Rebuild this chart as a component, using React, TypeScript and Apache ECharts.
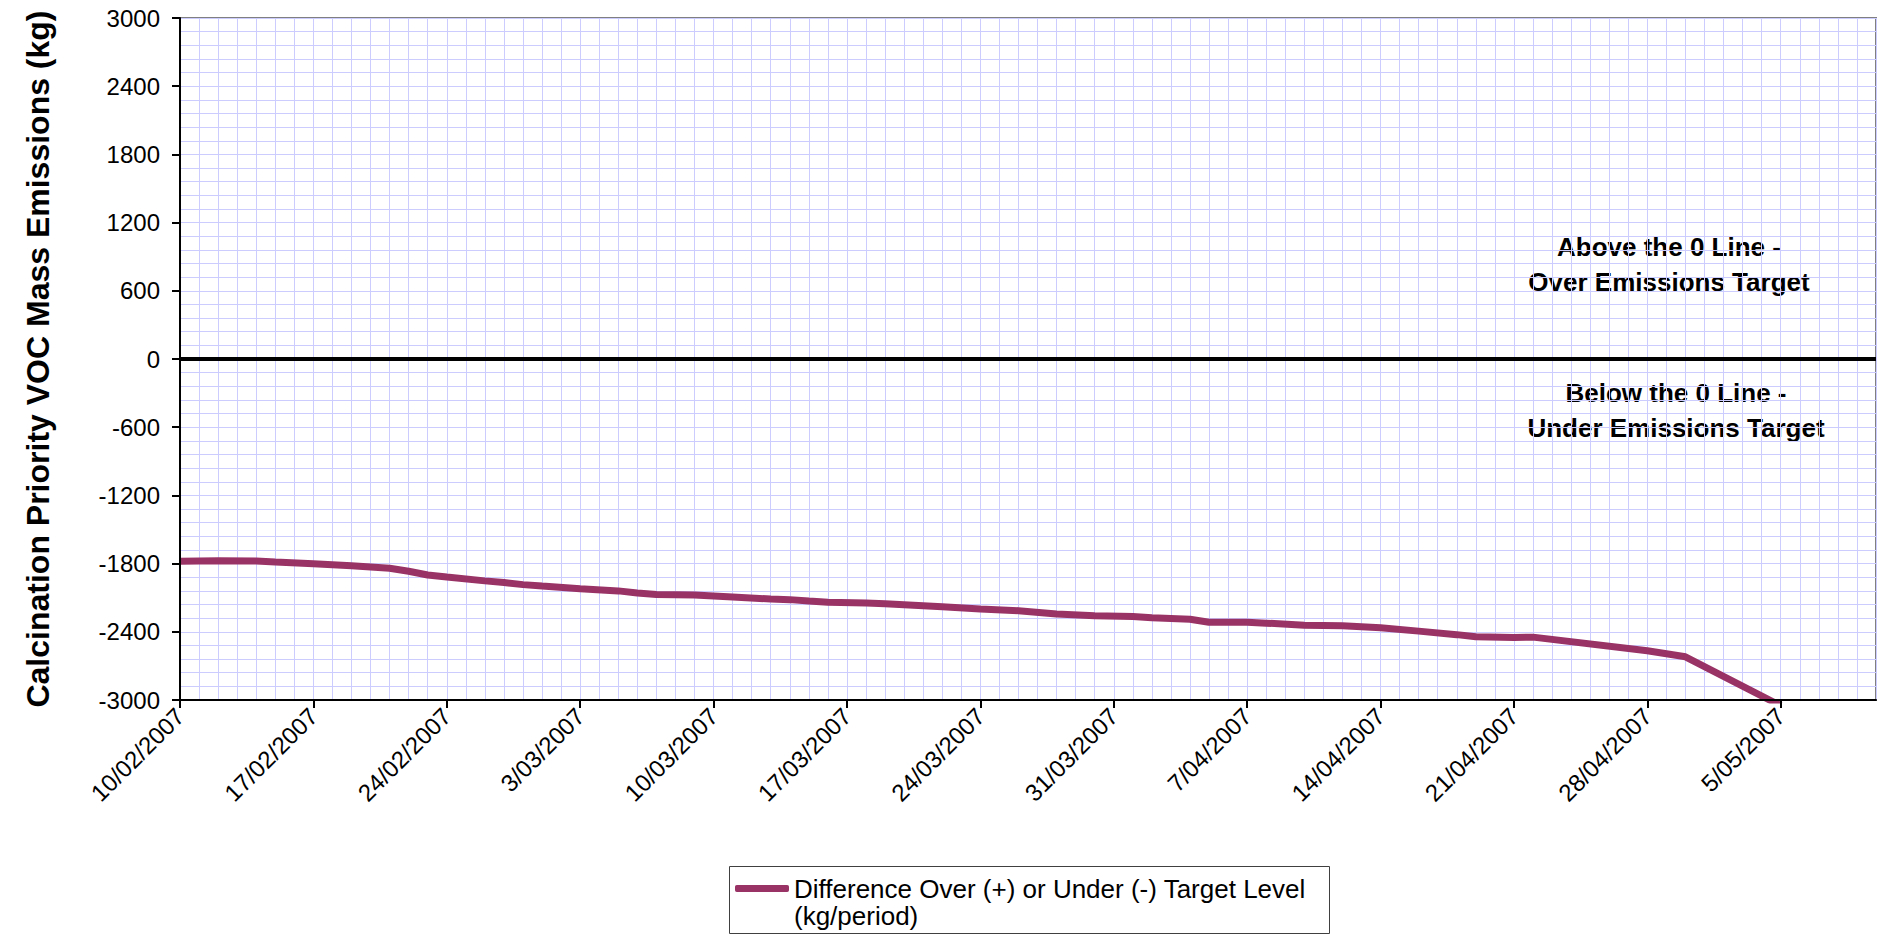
import React, { useEffect, useRef } from "react";
import * as echarts from "echarts";

const dates = [
  "2007-02-10", "2007-02-12", "2007-02-14", "2007-02-15", "2007-02-17", "2007-02-19",
  "2007-02-21", "2007-02-22", "2007-02-23", "2007-02-24", "2007-02-26", "2007-02-27",
  "2007-02-28", "2007-03-01", "2007-03-03", "2007-03-05", "2007-03-06", "2007-03-07",
  "2007-03-09", "2007-03-11", "2007-03-13", "2007-03-14", "2007-03-15", "2007-03-16",
  "2007-03-18", "2007-03-19", "2007-03-22", "2007-03-24", "2007-03-26", "2007-03-28",
  "2007-03-30", "2007-04-01", "2007-04-02", "2007-04-04", "2007-04-05", "2007-04-07",
  "2007-04-08", "2007-04-10", "2007-04-12", "2007-04-14", "2007-04-16", "2007-04-18",
  "2007-04-19", "2007-04-21", "2007-04-22", "2007-04-28", "2007-04-30", "2007-05-05",
];
const differenceValues = [
  -1780, -1775, -1777, -1786, -1801, -1818,
  -1841, -1867, -1900, -1918, -1952, -1967,
  -1985, -1998, -2022, -2040, -2058, -2072,
  -2076, -2093, -2112, -2117, -2130, -2141,
  -2147, -2153, -2179, -2199, -2214, -2243,
  -2258, -2266, -2277, -2289, -2316, -2316,
  -2324, -2342, -2347, -2365, -2394, -2425,
  -2444, -2450, -2447, -2567, -2620, -3050,
];
const xTickDates = [
  "2007-02-10", "2007-02-17", "2007-02-24", "2007-03-03", "2007-03-10", "2007-03-17",
  "2007-03-24", "2007-03-31", "2007-04-07", "2007-04-14", "2007-04-21", "2007-04-28",
  "2007-05-05",
];
const xMinDate = "2007-02-10";
const xMaxDate = "2007-05-10";
const yTickValues = [-3000, -2400, -1800, -1200, -600, 0, 600, 1200, 1800, 2400, 3000];
const seriesName = "Difference Over (+) or Under (-) Target Level (kg/period)";
const legendLines = ["Difference Over (+) or Under (-) Target Level", "(kg/period)"];
const yAxisTitle = "Calcination Priority VOC Mass Emissions (kg)";
const aboveText = ["Above the 0 Line -", "Over Emissions Target"];
const belowText = ["Below the 0 Line -", "Under Emissions Target"];

const DAY = 86400000;
const toUTC = (s: string) => {
  const [y, m, d] = s.split("-").map(Number);
  return Date.UTC(y, m - 1, d);
};
const fmtDate = (v: number) => {
  const d = new Date(v);
  return `${d.getUTCDate()}/${String(d.getUTCMonth() + 1).padStart(2, "0")}/${d.getUTCFullYear()}`;
};

const FONT = '"Liberation Sans", Arial, sans-serif';
const GRID_COLOR = "#ccccff";
const LINE_COLOR = "#993366";

export default function App() {
  const ref = useRef<HTMLDivElement>(null);
  useEffect(() => {
    if (!ref.current) return;
    const chart = echarts.init(ref.current, null, { renderer: "svg" });
    const data = dates.map((d, i) => [toUTC(d), differenceValues[i]]);
    const xMin = toUTC(xMinDate);
    const xMax = toUTC(xMaxDate);
    const hiddenParts = {
      axisLine: { show: false },
      axisTick: { show: false },
      axisLabel: { show: false },
    };
    chart.setOption({
      animation: false,
      backgroundColor: "#ffffff",
      textStyle: { fontFamily: FONT, color: "#000" },
      grid: {
        left: 180,
        top: 18,
        right: 5,
        bottom: 235,
        show: true,
        borderColor: "#808080",
        borderWidth: 2,
        backgroundColor: "#ffffff",
      },
      legend: {
        show: true,
        left: 735,
        top: 848,
        padding: 0,
        itemWidth: 54,
        itemHeight: 7,
        icon: "roundRect",
        selectedMode: false,
        formatter: () => "\n" + legendLines.join("\n"),
        textStyle: { fontSize: 26, lineHeight: 27, color: "#000", fontFamily: FONT },
        data: [{ name: seriesName, itemStyle: { color: LINE_COLOR } }],
      },
      xAxis: [
        {
          type: "value",
          min: xMin,
          max: xMax,
          interval: DAY,
          axisLine: { show: true, onZero: false, lineStyle: { color: "#000", width: 2 } },
          axisTick: {
            show: true,
            length: 8,
            customValues: xTickDates.map(toUTC),
            lineStyle: { color: "#000", width: 2 },
          },
          axisLabel: {
            show: true,
            rotate: 45,
            margin: 12,
            fontSize: 24,
            color: "#000",
            fontFamily: FONT,
            customValues: xTickDates.map(toUTC),
            formatter: (v: number) => fmtDate(v),
          },
          splitLine: { show: false },
          z: 5,
        },
        {
          type: "value",
          position: "top",
          min: xMin,
          max: xMax,
          interval: DAY,
          ...hiddenParts,
          splitLine: { show: true, lineStyle: { color: GRID_COLOR, width: 1 } },
          z: 0,
        },
      ],
      yAxis: [
        {
          type: "value",
          min: -3000,
          max: 3000,
          interval: 120,
          name: yAxisTitle,
          nameLocation: "middle",
          nameGap: 126,
          nameTextStyle: { fontSize: 32, fontWeight: "bold", color: "#000", fontFamily: FONT },
          axisLine: { show: true, onZero: false, lineStyle: { color: "#000", width: 2 } },
          axisTick: {
            show: true,
            length: 8,
            customValues: yTickValues,
            lineStyle: { color: "#000", width: 2 },
          },
          axisLabel: {
            show: true,
            margin: 20,
            fontSize: 24,
            color: "#000",
            fontFamily: FONT,
            customValues: yTickValues,
            formatter: (v: number) => String(v),
          },
          splitLine: { show: false },
          z: 5,
        },
        {
          type: "value",
          position: "right",
          min: -3000,
          max: 3000,
          interval: 120,
          ...hiddenParts,
          splitLine: { show: true, lineStyle: { color: GRID_COLOR, width: 1 } },
          z: 0,
        },
      ],
      series: [
        {
          name: seriesName,
          type: "line",
          xAxisIndex: 0,
          yAxisIndex: 0,
          data,
          showSymbol: false,
          symbol: "none",
          clip: true,
          z: 3,
          lineStyle: { color: LINE_COLOR, width: 7 },
          itemStyle: { color: LINE_COLOR },
          markLine: {
            silent: true,
            symbol: "none",
            label: { show: false },
            lineStyle: { color: "#000", width: 4, type: "solid" },
            data: [{ yAxis: 0 }],
          },
        },
      ],
      graphic: [
        {
          type: "text",
          silent: true,
          style: {
            text: aboveText.join("\n"),
            x: 1669,
            y: 264,
            align: "center",
            verticalAlign: "middle",
            font: `bold 26px ${FONT}`,
            lineHeight: 35,
            fill: "#000",
            stroke: "none",
            lineWidth: 0,
          },
        },
        {
          type: "text",
          silent: true,
          style: {
            text: belowText.join("\n"),
            x: 1676,
            y: 410,
            align: "center",
            verticalAlign: "middle",
            font: `bold 26px ${FONT}`,
            lineHeight: 35,
            fill: "#000",
            stroke: "none",
            lineWidth: 0,
          },
        },
        {
          type: "rect",
          silent: true,
          shape: { x: 729.5, y: 866.5, width: 600, height: 67 },
          style: { fill: "none", stroke: "#404040", lineWidth: 1 },
        },
      ],
    });
    return () => chart.dispose();
  }, []);
  return (
    <div
      ref={ref}
      style={{ position: "fixed", left: 0, top: 0, width: 1881, height: 935 }}
    />
  );
}
